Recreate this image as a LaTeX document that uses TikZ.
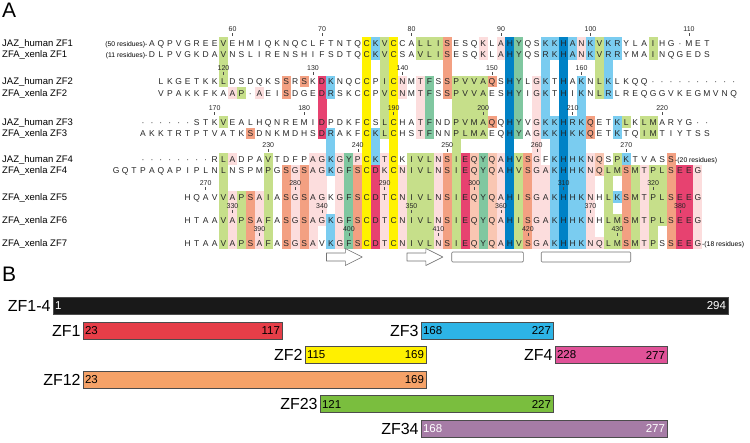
\documentclass[tikz,border=0pt]{standalone}
\usepackage{fontspec}
\setmainfont{Liberation Sans}
\usetikzlibrary{positioning}

\definecolor{hlY}{RGB}{255,242,0}
\definecolor{hlB}{RGB}{122,204,240}
\definecolor{hlD}{RGB}{0,130,198}
\definecolor{hlG}{RGB}{198,223,138}
\definecolor{hlT}{RGB}{128,199,160}
\definecolor{hlS}{RGB}{243,160,130}
\definecolor{hlQ}{RGB}{249,198,178}
\definecolor{hlP}{RGB}{252,221,221}
\definecolor{hlR}{RGB}{231,66,112}
\definecolor{zfK}{RGB}{25,25,25}
\definecolor{zfR}{RGB}{230,62,72}
\definecolor{zfB}{RGB}{45,180,230}
\definecolor{zfY}{RGB}{255,240,0}
\definecolor{zfP}{RGB}{224,82,152}
\definecolor{zfO}{RGB}{245,162,104}
\definecolor{zfG}{RGB}{122,190,62}
\definecolor{zfV}{RGB}{166,124,166}

\begin{document}
\begin{tikzpicture}[x=1pt, y=-1pt,
 res/.style={font=\fontsize{8.5}{9}\selectfont, text=black!85, inner sep=0pt, anchor=base},
 seqname/.style={font=\fontsize{9.5}{10}\selectfont, inner sep=0pt, anchor=base west},
 extra/.style={font=\fontsize{6.8}{7}\selectfont, inner sep=0pt},
 ticknum/.style={font=\fontsize{7}{7}\selectfont, inner sep=0pt, text=black!85},
 panel/.style={font=\fontsize{21}{21}\selectfont, inner sep=0pt, anchor=base west},
 strand/.style={draw=black!55, fill=white, line width=0.6pt, line join=round},
 helix/.style={draw=black!55, fill=white, line width=0.6pt, rounded corners=1pt, minimum height=10pt, inner sep=0pt},
 bar/.style={draw=black!70, line width=0.4pt, minimum height=17pt, inner sep=0pt},
 zfname/.style={font=\fontsize{16}{16}\selectfont, inner sep=0pt},
 zfnum/.style={font=\fontsize{11.5}{11.5}\selectfont, inner sep=0pt}
]
\useasboundingbox (0,0) rectangle (750,442);
\def\ry{{0,43,54.5,81.5,93,122,133.5,159,170.5,197,220,243}}

% residue shading, column/first row/last row/colour
\foreach \c/\a/\b/\cl in {9/1/3/hlG, 9/5/5/hlG, 9/7/11/hlG,
 10/4/4/hlP, 10/7/7/hlP, 10/9/11/hlP, 11/4/4/hlG, 11/9/11/hlG,
 12/6/6/hlS, 12/9/11/hlS, 13/4/4/hlP, 13/9/11/hlP, 14/7/11/hlG,
 16/3/4/hlS, 16/8/11/hlS, 17/8/11/hlP, 18/3/3/hlS, 18/8/11/hlS,
 19/7/11/hlP, 20/3/6/hlR, 20/7/10/hlP,
 21/3/4/hlB, 21/6/8/hlB, 21/10/11/hlB, 22/7/11/hlP, 23/7/11/hlT,
 24/7/7/hlP, 24/8/11/hlS, 25/1/11/hlY,
 26/1/2/hlB, 26/6/7/hlB, 26/8/11/hlR, 27/1/6/hlG, 27/7/11/hlP,
 28/1/11/hlY, 29/3/4/hlP, 29/8/11/hlP, 30/7/11/hlG,
 31/1/2/hlG, 31/3/6/hlP, 31/7/11/hlG, 32/1/2/hlG, 32/3/6/hlT, 32/7/11/hlG,
 33/1/2/hlG, 33/7/11/hlP, 34/1/4/hlS, 34/7/11/hlS, 35/3/11/hlG,
 36/3/6/hlG, 36/7/11/hlR, 37/3/6/hlG, 37/7/11/hlQ,
 38/1/2/hlP, 38/3/6/hlG, 38/7/11/hlT, 39/3/3/hlS, 39/5/5/hlS, 39/7/11/hlQ,
 40/1/2/hlP, 40/7/11/hlP, 41/1/11/hlD, 42/1/6/hlT, 42/7/11/hlG,
 43/7/11/hlS, 44/3/11/hlP, 45/1/6/hlB, 45/8/11/hlP,
 46/1/2/hlB, 46/5/11/hlB, 47/1/11/hlD, 48/1/2/hlB, 48/5/11/hlB,
 49/1/2/hlP, 49/3/11/hlB, 50/1/2/hlB, 50/5/6/hlS, 50/7/11/hlP,
 51/1/4/hlG, 51/7/8/hlQ, 51/11/11/hlP, 52/1/4/hlB, 52/8/11/hlG,
 53/1/2/hlB, 53/5/6/hlB, 53/7/8/hlG, 53/9/9/hlB, 53/10/11/hlG,
 54/5/5/hlG, 54/7/7/hlB, 54/8/11/hlS, 55/8/11/hlG,
 56/5/6/hlG, 56/8/11/hlP, 57/1/2/hlG, 57/5/6/hlG, 57/8/11/hlG,
 58/8/10/hlG, 59/7/11/hlS, 60/8/11/hlR, 61/8/11/hlR, 62/8/11/hlP}{
  \pgfmathsetmacro\ya{\ry[\a]-5.75}
  \pgfmathsetmacro\yb{\ry[\b]+5.75}
  \fill[\cl] ({143+8.95*\c-4.5},\ya) rectangle ({143+8.95*\c+4.5},\yb);
}

% sequences, row/first column/residues
\foreach \rw/\st/\sq in {
 1/1/{A,Q,P,V,G,R,E,E,V,E,H,M,I,Q,K,N,Q,C,L,F,T,N,T,Q,C,K,V,C,C,A,L,L,I,S,E,S,Q,K,L,A,H,Y,Q,S,K,K,H,A,N,K,V,K,R,Y,L,A,I,H,G,·,M,E,T},
 2/1/{D,L,P,V,G,K,D,A,V,N,S,L,I,R,E,N,S,H,I,F,S,D,T,Q,C,K,V,C,S,A,V,L,I,S,E,S,Q,K,L,A,H,Y,Q,S,R,K,H,A,N,K,V,R,R,Y,M,A,I,N,Q,G,E,D,S},
 3/2/{L,K,G,E,T,K,K,L,D,S,D,Q,K,S,S,R,S,K,D,K,N,Q,C,C,P,I,C,N,M,T,F,S,S,P,V,V,A,Q,S,H,Y,L,G,K,T,H,A,K,N,L,K,L,K,Q,Q,·,·,·,·,·,·,·,·,·,·},
 4/2/{V,P,A,K,K,F,K,A,A,P,·,A,E,I,S,D,G,E,D,R,S,K,C,C,P,V,C,N,M,T,F,S,S,P,V,V,A,E,S,H,Y,I,G,K,T,H,I,K,N,L,R,L,R,E,Q,G,G,V,K,E,G,M,V,N,Q},
 5/0/{·,·,·,·,·,·,S,T,K,V,E,A,L,H,Q,N,R,E,M,I,D,P,D,K,F,C,S,L,C,H,A,T,F,N,D,P,V,M,A,Q,Q,H,Y,V,G,K,K,H,R,K,Q,E,T,K,L,K,L,M,A,R,Y,G,·,·},
 6/0/{A,K,K,T,R,T,P,T,V,A,T,K,S,D,N,K,M,D,H,S,D,R,A,K,F,C,K,L,C,H,S,T,F,N,N,P,L,M,A,E,Q,H,Y,A,G,K,K,H,K,K,Q,E,T,K,T,Q,I,M,T,I,Y,T,S,S},
 7/0/{·,·,·,·,·,·,·,·,R,L,A,D,P,A,V,T,D,F,P,A,G,K,G,Y,P,C,K,T,C,K,I,V,L,N,S,I,E,Q,Y,Q,A,H,V,S,G,F,K,H,H,K,N,Q,S,P,K,T,V,A,S,S},
 8/-3/{G,Q,T,P,A,Q,A,P,I,P,L,N,L,N,S,P,M,P,G,S,G,S,A,G,K,G,F,S,C,D,K,C,N,I,V,L,N,S,I,E,Q,Y,Q,A,H,V,S,G,A,K,H,H,K,N,Q,L,M,S,M,T,P,L,S,E,E,G},
 9/5/{H,Q,A,V,V,A,P,S,A,I,A,S,G,S,A,G,K,G,F,S,C,D,T,C,N,I,V,L,N,S,I,E,Q,Y,Q,A,H,I,S,G,A,K,H,H,K,N,H,L,K,S,M,T,P,L,S,E,E,G},
 10/5/{H,T,A,A,V,A,P,S,A,F,A,S,G,S,A,G,K,G,F,S,C,D,T,C,N,I,V,L,N,S,I,E,Q,Y,Q,A,H,I,S,G,A,K,H,H,K,N,H,L,M,S,M,T,P,L,S,E,E,G},
 11/5/{H,T,A,A,V,A,P,S,A,F,A,S,G,S,A,V,K,G,F,S,C,D,T,C,N,I,V,L,N,S,I,E,Q,Y,Q,A,H,V,S,G,A,K,H,H,K,N,Q,L,M,S,M,T,P,S,S,E,E,G}}{
  \pgfmathsetmacro\yy{\ry[\rw]+3}
  \foreach \r [count=\i from \st] in \sq
    \node[res] (r\rw-\i) at ({143+8.95*\i},\yy) {\r};
}

% sequence names
\foreach \rw/\nm in {1/JAZ\_human ZF1, 2/ZFA\_xenla ZF1, 3/JAZ\_human ZF2, 4/ZFA\_xenla ZF2,
 5/JAZ\_human ZF3, 6/ZFA\_xenla ZF3, 7/JAZ\_human ZF4, 8/ZFA\_xenla ZF4,
 9/ZFA\_xenla ZF5, 10/ZFA\_xenla ZF6, 11/ZFA\_xenla ZF7}{
  \pgfmathsetmacro\yy{\ry[\rw]+3.3}
  \node[seqname] (name\rw) at (2,\yy) {\nm};
}
\node[extra, anchor=base east] (pre1) at (147.5,46) {(50 residues)-};
\node[extra, anchor=base east] (pre2) at (147.5,57.5) {(11 residues)-};
\node[extra, anchor=base west] (post7) at (675,162) {-(20 residues)};
\node[extra, anchor=base west] (post11) at (702,246) {-(18 residues)};

% numbering, row below/number/column
\foreach \rw/\tv/\c in {1/60/10, 1/70/20, 1/80/30, 1/90/40, 1/100/50, 1/110/61,
 3/120/9, 3/130/19, 3/140/29, 3/150/39, 3/160/49,
 5/170/8, 5/180/18, 5/190/28, 5/200/38, 5/210/48, 5/220/58,
 7/230/14, 7/240/24, 7/250/34, 7/260/44, 7/270/54,
 9/270/7, 9/280/17, 9/290/27, 9/300/37, 9/310/47, 9/320/57,
 10/330/10, 10/340/20, 10/350/30, 10/360/40, 10/370/50, 10/380/60,
 11/390/13, 11/400/23, 11/410/33, 11/420/43, 11/430/53}{
  \pgfmathsetmacro\yy{\ry[\rw]}
  \node[ticknum] (tick\rw-\tv) at ({143+8.95*\c},{\yy-13.8}) {\tv};
  \draw[black!70, line width=0.4pt] ({143+8.95*\c},{\yy-9.6}) -- ({143+8.95*\c},{\yy-7});
}

% secondary structure
\foreach \ca/\cb in {21/24, 30/33}
  \draw[strand] ({143+8.95*\ca-4.5},253) -- ({143+8.95*\cb-12.5},253) -- ({143+8.95*\cb-12.5},248.5)
    -- ({143+8.95*\cb+4.5},257) -- ({143+8.95*\cb-12.5},265.5) -- ({143+8.95*\cb-12.5},261)
    -- ({143+8.95*\ca-4.5},261) -- cycle;
\node[helix, minimum width=71.6pt] (helixA) at ({143+8.95*38.5},257) {};
\node[helix, minimum width=89.5pt] (helixB) at ({143+8.95*49.5},257) {};

\node[panel] (panelA) at (2,17) {A};
\node[panel] (panelB) at (2,281) {B};

% zinc finger constructs
\foreach \nm/\lb/\xa/\xb/\yy/\cl/\na/\nb/\tc in {
 zf14/ZF1-4/53/728/306/zfK/1/294/white,
 zf1/ZF1/83/282/330.5/zfR/23/117/black,
 zf3/ZF3/421/553/330.5/zfB/168/227/black,
 zf2/ZF2/305/426/355/zfY/115/169/black,
 zf4/ZF4/555/667/355/zfP/228/277/black,
 zf12/ZF12/83/426/379.5/zfO/23/169/black,
 zf23/ZF23/320/553/404/zfG/121/227/black,
 zf34/ZF34/421/667/428.5/zfV/168/277/white}{
  \node[bar, fill=\cl, minimum width={(\xb-\xa)*1pt}] (\nm) at ({(\xa+\xb)/2},\yy) {};
  \node[zfname, left=2pt of \nm] (\nm-name) {\lb};
  \node[zfnum, text=\tc, right=2pt of \nm.west] (\nm-from) {\na};
  \node[zfnum, text=\tc, left=2pt of \nm.east] (\nm-to) {\nb};
}
\end{tikzpicture}
\end{document}
